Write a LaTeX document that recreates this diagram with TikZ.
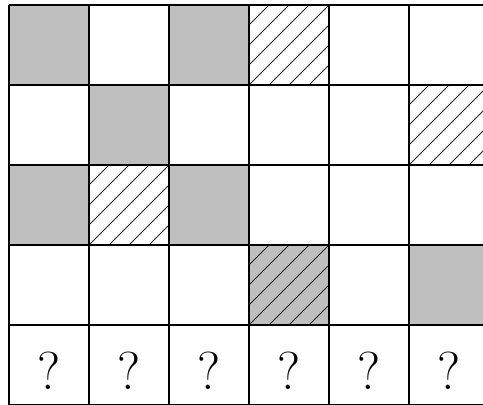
\documentclass[tikz,border=0pt]{standalone}
\tikzset{
  cellline/.style={line width=1.3pt},
  shaded/.style={fill=black!25},
  hatchline/.style={line width=0.7pt, black!85},
  qmark/.style={font=\fontsize{38}{44}\selectfont, inner sep=0pt},
}
% hatch one cell: column, row
\newcommand{\hatchcell}[2]{%
  \begin{scope}
    \clip (#1,-#2) rectangle ++(1,-1);
    \foreach \k in {-4,...,4}
      \draw[hatchline] (#1+\k*0.25,-#2-1) -- ++(1,1);
  \end{scope}}
\begin{document}
\begin{tikzpicture}[x=2cm, y=2cm]
  \useasboundingbox (-0.1125,0.0625) rectangle (5.925,-4.9875);
  \clip (-0.1125,0.0625) rectangle (5.925,-4.9875);

  % grey cells
  \foreach \c/\r in {0/0, 2/0, 1/1, 0/2, 2/2, 3/3, 5/3}
    \fill[shaded] (\c,-\r) rectangle ++(1,-1);

  % hatched cells
  \hatchcell{3}{0}
  \hatchcell{5}{1}
  \hatchcell{1}{2}
  \hatchcell{3}{3}

  % the grid
  \draw[cellline, step=1] (0,-5) grid (6,0);

  % last row: unknowns
  \foreach \c in {0,...,5}
    \node[qmark] (q\c) at (\c+0.5,-4.57) {?};
\end{tikzpicture}
\end{document}
